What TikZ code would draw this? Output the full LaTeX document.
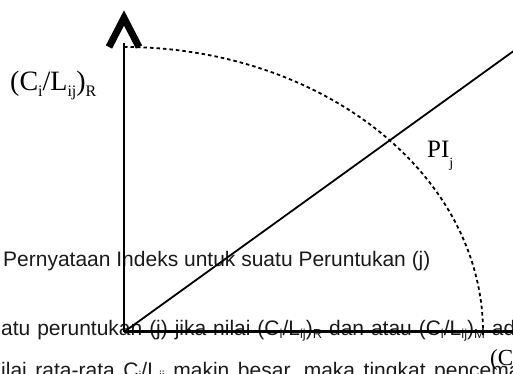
\documentclass[tikz,border=0pt]{standalone}
\usepackage{fontspec}
\setmainfont{Liberation Serif}
\setsansfont{Liberation Sans}
\usetikzlibrary{positioning}
\definecolor{ChartInk}{HTML}{000000}
\definecolor{TextInk}{HTML}{1A1A1A}
\newcommand{\lowsub}[2]{\raisebox{#1}{\fontsize{16}{16}\selectfont #2}}
\newcommand{\txtsub}[1]{\raisebox{-3pt}{\fontsize{13}{13}\selectfont #1}}

\begin{document}
\begin{tikzpicture}[x=1pt,y=1pt,
    serif label/.style={inner sep=0pt,anchor=base west,font=\fontsize{28}{32}\selectfont},
    body line/.style={inner sep=0pt,anchor=base west,font=\sffamily\fontsize{21}{25}\selectfont,text=TextInk}]
  \useasboundingbox (0,0) rectangle (513,374);
  \clip (0,0) rectangle (513,374);
  % running text behind the chart
  \node[body line] (title) at (3,107) {Pernyataan Indeks untuk suatu Peruntukan (j)};
  \node[body line] (lineA) at (1,38) {\spaceskip=6.9pt atu peruntukan (j) jika nilai (C\txtsub{i}/L\txtsub{ij})\txtsub{R} dan atau (C\txtsub{i}/L\txtsub{ij})\txtsub{M} ad};
  \node[body line] (lineB) at (1,-4) {\spaceskip=8.6pt ilai rata-rata C\txtsub{i}/L\txtsub{ij} makin besar, maka tingkat pencema};
  % axes
  \coordinate (O) at (124,42);
  \coordinate (ytop) at (124,331);
  \coordinate (xend) at (520,42);
  \coordinate (diag) at (540,342);
  \coordinate (tipL) at (109,327);
  \coordinate (tip) at (124,356);
  \coordinate (tipR) at (139,327);
  \draw[ChartInk,line width=1.5pt] (O) -- (ytop);
  \draw[ChartInk,line width=3pt] (O) -- (xend);
  \draw[ChartInk,line width=1.8pt] (O) -- (diag);
  \draw[ChartInk,line width=7pt,line join=miter] (tipL) -- (tip) -- (tipR);
  % limit curve
  \draw[ChartInk,line width=1.8pt,dash pattern=on 3.5pt off 3pt]
    (124,327) arc[start angle=90,end angle=-0.8,x radius=359,y radius=285];
  % labels
  \node[serif label] (ratioR) at (10,283)
    {(C\lowsub{-6pt}{i}/L\lowsub{-6pt}{ij})\lowsub{-6pt}{R}};
  \node[serif label,font=\fontsize{25}{29}\selectfont] (pij) at (427,216)
    {PI\raisebox{-10pt}{\fontsize{14}{14}\selectfont j}};
  \node[serif label,font=\fontsize{23}{27}\selectfont] (cm) at (490,9) {(C};
\end{tikzpicture}
\end{document}
